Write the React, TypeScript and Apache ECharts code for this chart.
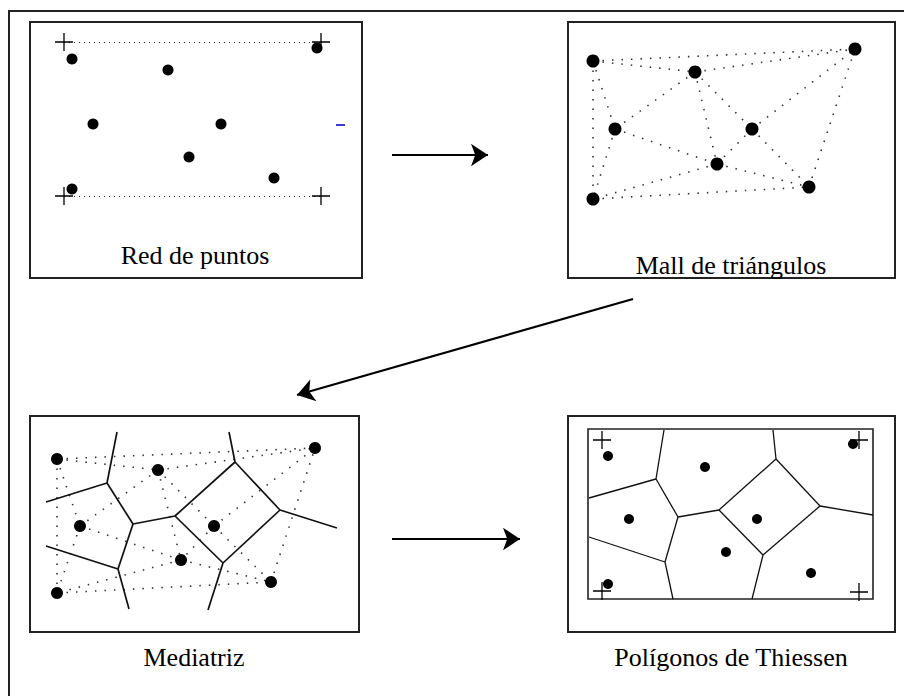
import React, { useEffect, useRef } from "react";
import * as echarts from "echarts";

// ---- Data (diagram coordinates, px units of the 904x696 sheet) ----
// Panel 1: point network
const redPoints = [[72, 59], [168, 70], [93, 124], [221, 124], [189, 157], [274, 178], [72, 189], [317, 48]];
const redCrosses = [[64, 42], [321, 42], [64, 196], [321, 196]];
const redGuides = [[[64, 42], [321, 42]], [[64, 196], [321, 196]]];

// Panel 2: triangle mesh (order: TL, A, TR, B, C, D, BR, BL)
const mallPoints = [[593, 61], [695, 72], [855, 49], [615, 129], [752, 129], [717, 164], [809, 187], [593, 199]];
const triEdges = [[0, 2], [0, 7], [7, 6], [6, 2], [0, 1], [0, 3], [1, 3], [1, 5], [1, 4], [1, 2], [4, 2], [4, 6], [4, 5], [3, 5], [3, 7], [5, 7], [5, 6]];

// Panel 3: perpendicular bisectors
const medPoints = [[57, 459], [158, 470], [315, 448], [80, 526], [214, 526], [181, 560], [271, 582], [57, 593]];
const medVertices = [[117, 432], [107, 483], [46, 502], [133, 524], [175, 516], [118, 569], [46, 546], [129, 609], [235, 462], [229, 432], [280, 510], [337, 528], [223, 563], [208, 610]];

// Panel 4: Thiessen polygons
const thiPoints = [[608, 456], [705, 467], [853, 444], [629, 519], [757, 519], [726, 552], [811, 573], [608, 584]];
const thiCrosses = [[602, 440], [859, 440], [602, 591], [859, 592]];
const thiVertices = [[664, 430], [656, 479], [589, 498], [678, 517], [719, 510], [665, 562], [589, 537], [673, 599], [776, 459], [773, 430], [820, 506], [873, 515], [763, 555], [752, 599]];

const voronoiEdges = [[0, 1], [1, 2], [1, 3], [3, 4], [3, 5], [5, 6], [5, 7], [4, 8], [8, 9], [8, 10], [10, 11], [10, 12], [4, 12], [12, 13]];

// Arrows between steps
const arrows = [[[392, 155], [488, 155]], [[633, 299], [297, 395]], [[392, 539], [520, 539]]];

// Captions
const captions = [
  { text: "Red de puntos", x: 195, y: 255 },
  { text: "Mall de triángulos", x: 731, y: 265 },
  { text: "Mediatriz", x: 194, y: 657 },
  { text: "Polígonos de Thiessen", x: 731, y: 657 },
];

const SERIF = "'Liberation Serif', 'Times New Roman', serif";
const crossPath = "path://M10,0L10,20M0,10L20,10";

function edgeData(pts: number[][], edges: number[][]) {
  return edges.map(([a, b]) => ({ coords: [pts[a], pts[b]] }));
}

const dotSeries = (data: number[][], size: number) => ({
  type: "scatter",
  data,
  symbol: "circle",
  symbolSize: size,
  itemStyle: { color: "#000", opacity: 1 },
  silent: true,
  z: 5,
});

const crossSeries = (data: number[][]) => ({
  type: "scatter",
  data,
  symbol: crossPath,
  symbolSize: 18,
  itemStyle: { color: "rgba(0,0,0,0)", borderColor: "#000", borderWidth: 1.3, opacity: 1 },
  silent: true,
  z: 6,
});

const linesSeries = (data: any[], lineStyle: any, extra: any = {}) => ({
  type: "lines",
  coordinateSystem: "cartesian2d",
  data,
  lineStyle: { opacity: 1, ...lineStyle },
  silent: true,
  z: 3,
  ...extra,
});

const option: any = {
  animation: false,
  backgroundColor: "#fff",
  grid: { left: 0, top: 0, width: 904, height: 696 },
  xAxis: { type: "value", min: 0, max: 904, show: false },
  yAxis: { type: "value", min: 0, max: 696, inverse: true, show: false },
  series: [
    linesSeries(redGuides.map((c) => ({ coords: c })), { color: "#222", width: 1, type: [1, 4] }),
    dotSeries(redPoints, 11),
    crossSeries(redCrosses),

    linesSeries(edgeData(mallPoints, triEdges), { color: "#333", width: 1.6, type: [1.5, 8] }),
    dotSeries(mallPoints, 13),

    linesSeries(edgeData(medPoints, triEdges), { color: "#333", width: 1.6, type: [1.5, 8] }),
    linesSeries(edgeData(medVertices, voronoiEdges), { color: "#111", width: 1.7 }),
    dotSeries(medPoints, 12),

    linesSeries(edgeData(thiVertices, voronoiEdges), { color: "#111", width: 1.3 }),
    dotSeries(thiPoints, 10),
    crossSeries(thiCrosses),

    linesSeries(arrows.map((c) => ({ coords: c })), { color: "#000", width: 2.2 }, {
      symbol: ["none", "arrow"],
      symbolSize: 17,
    }),
  ],
  graphic: [
    { type: "rect", shape: { x: 9, y: 11, width: 1000, height: 1000 }, style: { fill: "none", stroke: "#222", lineWidth: 2 }, silent: true },
    { type: "rect", shape: { x: 30, y: 22, width: 332, height: 256 }, style: { fill: "none", stroke: "#222", lineWidth: 2 }, silent: true },
    { type: "rect", shape: { x: 568, y: 22, width: 327, height: 256 }, style: { fill: "none", stroke: "#222", lineWidth: 2 }, silent: true },
    { type: "rect", shape: { x: 30, y: 416, width: 329, height: 216 }, style: { fill: "none", stroke: "#222", lineWidth: 2 }, silent: true },
    { type: "rect", shape: { x: 568, y: 416, width: 327, height: 216 }, style: { fill: "none", stroke: "#222", lineWidth: 2 }, silent: true },
    { type: "rect", shape: { x: 588, y: 429, width: 285, height: 170 }, style: { fill: "none", stroke: "#222", lineWidth: 1.6 }, silent: true },
    { type: "rect", shape: { x: 336, y: 124, width: 9, height: 2 }, style: { fill: "#3b3bd6" }, silent: true },
    ...captions.map((c) => ({
      type: "text",
      x: c.x,
      y: c.y,
      style: { text: c.text, font: `26px ${SERIF}`, fill: "#000", textAlign: "center", textVerticalAlign: "middle" },
      silent: true,
    })),
  ],
};

export default function App() {
  const ref = useRef<HTMLDivElement>(null);
  useEffect(() => {
    document.body.style.margin = "0";
    const chart = echarts.init(ref.current!, null, { renderer: "svg" });
    chart.setOption(option);
    return () => chart.dispose();
  }, []);
  return (
    <div
      ref={ref}
      style={{ position: "absolute", left: 0, top: 0, width: 904, height: 696, background: "#fff" }}
    />
  );
}
